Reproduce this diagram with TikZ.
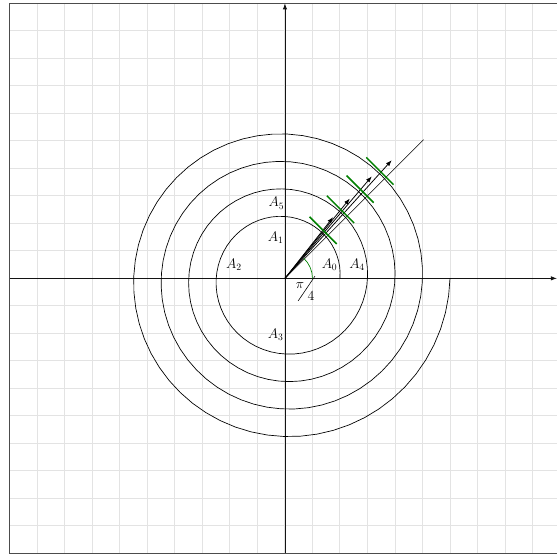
\documentclass[tikz,border=0pt]{standalone}
\usetikzlibrary{arrows.meta}
\begin{document}
\begin{tikzpicture}[>={Latex[length=2.2mm,width=1.6mm]},
    rejilla/.style={gray!22, line width=1pt},
    eje/.style={gray!15!black, line width=0.9pt},
    marca/.style={green!50!black, line width=1.6pt},
    etiqueta/.style={font=\fontsize{14}{16}\selectfont, inner sep=0pt}]
    \useasboundingbox (-10.36,-10.02) rectangle (9.89,10.12);
    % Cuadricula y marco
    \draw[rejilla] (-10,-10) grid (10,10);
    \draw[gray!60!black, line width=0.9pt] (-10,-10) rectangle (10,10);
    % Ejes
    \coordinate (O) at (0,0);
    \coordinate (xini) at (-10,0);
    \coordinate (xfin) at (9.89,0);
    \coordinate (yini) at (0,-10);
    \coordinate (yfin) at (0,10);
    \draw[eje,->] (xini) -- (xfin);
    \draw[eje,->] (yini) -- (yfin);
    % Espiral
    \draw[line width=0.7pt] plot[domain=0:1440, samples=240] (\x:{2+\x/360});
    % Recta a 45 grados
    \coordinate (R) at (45:7.13);
    \draw[line width=0.6pt] (O) -- (R);
    % Angulo
    \draw[green!50!black, line width=0.7pt] (1,0) arc (0:47:1);
    % Vectores
    \foreach \i/\a/\r in {1/51.8/2.83, 2/50.9/3.74, 3/49.6/4.87, 4/47.9/5.79}{
        \coordinate (P\i) at (\a:\r);
        \draw[->, line width=0.8pt] (O) -- (P\i);
    }
    % Marcas verdes
    \foreach \a/\r in {51.5/2.23, 51.2/3.22, 49.9/4.24, 48.5/5.21}
        \draw[marca] (\a:\r) ++(135:0.7) -- ++(-45:1.4);
    % Etiquetas
    \node[etiqueta] (a0) at (1.62,0.48) {$A_0$};
    \node[etiqueta] (a4) at (2.62,0.48) {$A_4$};
    \node[etiqueta] (a1) at (-0.34,1.48) {$A_1$};
    \node[etiqueta] (a5) at (-0.31,2.73) {$A_5$};
    \node[etiqueta] (a2) at (-1.86,0.48) {$A_2$};
    \node[etiqueta] (a3) at (-0.34,-2.04) {$A_3$};
    \node[etiqueta] (pi) at (0.55,-0.27) {$\pi$};
    \node[etiqueta] (cuatro) at (0.95,-0.65) {$4$};
    \draw[line width=0.6pt] (0.48,-0.82) -- (1.09,0.08);
\end{tikzpicture}
\end{document}
